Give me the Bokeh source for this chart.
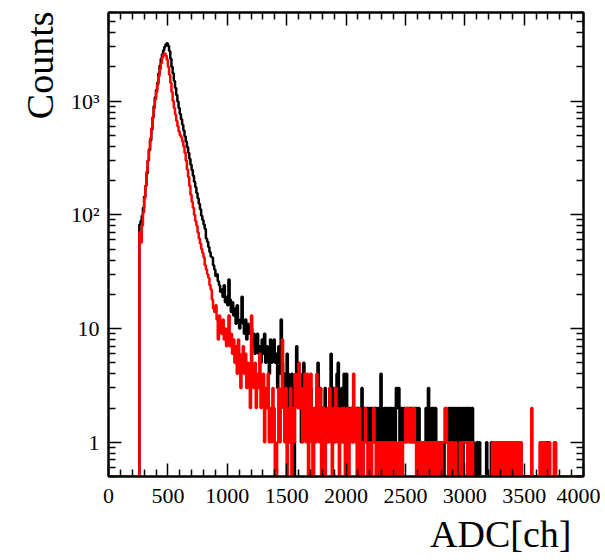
import math
from bokeh.plotting import figure
from bokeh.models import Range1d, FixedTicker, LinearAxis, LogAxis, Title, ColumnDataSource
from bokeh.embed import file_html
from bokeh.resources import INLINE

# ---------------- data ----------------
BIN_WIDTH = 10
X_MIN, X_MAX = 0, 4000
Y_MIN, Y_MAX = 0.5, 6000

# counts per 10-channel bin, 20 bins (200 ch) per row
black_counts = [
    0, 0, 0, 0, 0, 0, 0, 0, 0, 0, 0, 0, 0, 0, 0, 0, 0, 0, 0, 0,
    0, 0, 0, 0, 0, 0, 82, 88, 98, 115, 145, 180, 230, 300, 370, 450, 560, 720, 900, 1080,
    1250, 1450, 1750, 2050, 2350, 2580, 2800, 3000, 3150, 3220, 3050, 2750, 2350, 2000, 1750, 1500, 1300, 1130, 990, 870,
    770, 690, 620, 550, 490, 440, 395, 350, 310, 275, 248, 220, 195, 175, 155, 140, 125, 112, 98, 90,
    82, 75, 62, 58, 52, 47, 43, 42, 36, 33, 29, 30, 26, 24, 21, 22, 19, 24, 17, 19,
    16, 27, 18, 14, 17, 13, 15, 11, 16, 12, 10, 12, 19, 11, 9, 12, 8, 11, 9, 10,
    10, 7, 9, 6, 8, 9, 6, 7, 5, 8, 6, 9, 5, 7, 6, 4, 8, 5, 7, 8,
    5, 6, 3, 7, 4, 12, 5, 3, 4, 2, 6, 4, 1, 3, 4, 2, 0, 3, 7, 4,
    2, 3, 1, 4, 5, 3, 2, 3, 1, 2, 3, 1, 0, 2, 1, 3, 5, 2, 3, 1,
    2, 1, 3, 2, 1, 2, 3, 6, 2, 3, 1, 2, 4, 5, 2, 1, 3, 1, 4, 2,
    4, 1, 2, 1, 2, 1, 2, 2, 1, 2, 2, 1, 2, 3, 1, 2, 1, 2, 2, 1,
    2, 1, 2, 1, 2, 2, 1, 2, 1, 4, 2, 1, 2, 2, 1, 2, 1, 2, 2, 1,
    2, 1, 3, 2, 3, 1, 2, 1, 2, 2, 1, 2, 2, 1, 2, 1, 2, 1, 2, 2,
    1, 2, 1, 1, 0, 1, 1, 2, 1, 3, 2, 1, 2, 2, 1, 2, 1, 1, 0, 1,
    1, 1, 0, 1, 1, 1, 2, 1, 2, 0, 2, 1, 2, 0, 2, 2, 1, 2, 0, 2,
    1, 2, 2, 1, 2, 1, 2, 1, 0, 0, 1, 0, 1, 0, 0, 0, 0, 0, 1, 0,
    0, 0, 1, 0, 1, 0, 0, 1, 0, 1, 1, 0, 0, 1, 0, 1, 0, 0, 1, 0,
    0, 1, 0, 1, 0, 0, 1, 0, 0, 0, 0, 0, 0, 0, 0, 0, 0, 0, 0, 0,
    0, 0, 0, 0, 1, 0, 0, 1, 0, 1, 1, 0, 0, 0, 0, 0, 0, 0, 0, 0,
    0, 0, 0, 0, 0, 0, 0, 0, 0, 0, 0, 0, 0, 0, 0, 0, 0, 0, 0, 0,
]

red_counts = [
    0, 0, 0, 0, 0, 0, 0, 0, 0, 0, 0, 0, 0, 0, 0, 0, 0, 0, 0, 0,
    0, 0, 0, 0, 0, 0, 70, 57, 80, 105, 140, 180, 240, 300, 380, 470, 580, 710, 860, 1030,
    1200, 1400, 1650, 1900, 2150, 2400, 2580, 2620, 2500, 2300, 2000, 1700, 1450, 1200, 1000, 870, 760, 670, 600, 540,
    500, 480, 440, 400, 350, 300, 250, 215, 180, 150, 130, 115, 100, 88, 80, 70, 62, 56, 50, 46,
    42, 36, 33, 30, 28, 24, 22, 18, 15, 14, 16, 12, 8, 13, 11, 9, 12, 8, 10, 7,
    9, 13, 7, 9, 6, 8, 5, 7, 4, 8, 6, 3, 5, 7, 4, 6, 3, 5, 4, 2,
    13, 4, 3, 5, 2, 4, 3, 6, 2, 3, 4, 1, 3, 2, 4, 1, 2, 1, 3, 2,
    0, 0, 1, 3, 1, 2, 8, 2, 1, 3, 0, 2, 1, 3, 0, 2, 1, 4, 3, 2,
    5, 2, 3, 1, 2, 4, 1, 4, 0, 2, 4, 1, 0, 2, 1, 4, 2, 1, 3, 0,
    1, 2, 0, 1, 2, 1, 3, 1, 0, 2, 1, 3, 1, 2, 0, 1, 2, 1, 2, 0,
    1, 2, 0, 1, 2, 1, 4, 1, 2, 0, 1, 2, 0, 1, 0, 1, 2, 1, 0, 1,
    1, 0, 1, 2, 1, 0, 1, 0, 1, 1, 0, 1, 0, 1, 1, 0, 1, 1, 0, 1,
    0, 1, 0, 0, 1, 0, 1, 0, 1, 1, 2, 1, 2, 1, 1, 2, 1, 2, 1, 0,
    1, 0, 1, 1, 0, 1, 1, 0, 1, 0, 1, 1, 0, 1, 0, 1, 1, 0, 1, 1,
    0, 1, 1, 2, 2, 1, 0, 1, 0, 1, 0, 0, 1, 0, 0, 0, 1, 0, 1, 1,
    1, 1, 0, 1, 1, 0, 1, 0, 0, 0, 0, 0, 0, 0, 0, 0, 0, 0, 0, 0,
    0, 0, 0, 1, 0, 1, 1, 0, 1, 1, 0, 1, 1, 0, 1, 0, 1, 1, 0, 1,
    1, 0, 1, 0, 1, 1, 0, 1, 0, 0, 0, 0, 0, 0, 0, 0, 2, 0, 0, 0,
    0, 0, 0, 1, 0, 1, 1, 0, 1, 0, 0, 1, 0, 0, 0, 1, 1, 0, 0, 0,
    0, 0, 0, 0, 0, 0, 0, 0, 0, 0, 0, 0, 0, 0, 0, 0, 0, 0, 0, 0,
]

x_ticks = [0, 500, 1000, 1500, 2000, 2500, 3000, 3500, 4000]
x_tick_labels = ["0", "500", "1000", "1500", "2000", "2500", "3000", "3500", "4000"]
y_ticks = [1, 10, 100, 1000]
y_tick_labels = ["1", "10", "10\u00b2", "10\u00b3"]

x_title = "ADC[ch]"
y_title = "Counts"

FONT = "Liberation Serif"

# ---------------- figure ----------------
p = figure(width=600, height=560, output_backend="svg", toolbar_location=None,
           x_range=Range1d(X_MIN, X_MAX), y_range=Range1d(Y_MIN, Y_MAX),
           y_axis_type="log",
           min_border_left=108, min_border_right=17, min_border_top=12, min_border_bottom=84)
p.background_fill_color = "white"
p.border_fill_color = "white"
p.outline_line_color = "black"
p.outline_line_width = 2
p.xgrid.visible = False
p.ygrid.visible = False


def hist_step(counts):
    edges = [X_MIN + i * BIN_WIDTH for i in range(len(counts) + 1)]
    ys = [max(c, Y_MIN) for c in counts]
    ys.append(ys[-1])
    return ColumnDataSource(dict(x=edges, y=ys))


p.step("x", "y", source=hist_step(black_counts), mode="after", line_color="black", line_width=2.5)
p.step("x", "y", source=hist_step(red_counts), mode="after", line_color="#ff0000", line_width=2.5)

x_minor = [v for v in range(X_MIN, X_MAX + 1, 100) if v % 500 != 0]
y_minor = [m * 10 ** k for k in range(-1, 4) for m in range(2, 10) if Y_MIN <= m * 10 ** k <= Y_MAX]

xt = FixedTicker(ticks=x_ticks, minor_ticks=x_minor)
yt = FixedTicker(ticks=y_ticks, minor_ticks=y_minor)


def style_axis(ax, ticks, labels):
    ax.axis_line_color = "black"
    ax.axis_line_width = 2
    ax.major_tick_line_color = "black"
    ax.minor_tick_line_color = "black"
    ax.major_tick_line_width = 1.5
    ax.minor_tick_line_width = 1.5
    ax.major_tick_in = 13
    ax.major_tick_out = 0
    ax.minor_tick_in = 7
    ax.minor_tick_out = 0
    ax.major_label_text_font = FONT
    ax.major_label_text_color = "black"
    if labels is not None:
        ax.major_label_overrides = dict(zip(ticks, labels))
        ax.major_label_text_font_size = "22px"
    else:
        ax.major_label_overrides = {t: "" for t in ticks}
        ax.major_label_text_font_size = "1px"
        ax.major_label_standoff = 0


xa = p.xaxis[0]
xa.ticker = xt
style_axis(xa, x_ticks, x_tick_labels)
xa.major_label_standoff = 12

ya = p.yaxis[0]
ya.ticker = yt
style_axis(ya, y_ticks, y_tick_labels)
ya.major_label_standoff = 9

top = LinearAxis(ticker=xt)
style_axis(top, x_ticks, None)
p.add_layout(top, "above")
right = LogAxis(ticker=yt)
style_axis(right, y_ticks, None)
p.add_layout(right, "right")

p.add_layout(Title(text=x_title, align="right", offset=12, standoff=10,
                   text_font=FONT, text_font_size="38px", text_font_style="normal",
                   text_color="black"), "below")
p.add_layout(Title(text=y_title, align="right", offset=-1, standoff=13,
                   text_font=FONT, text_font_size="38px", text_font_style="normal",
                   text_color="black"), "left")

open("out.html", "w").write(file_html(p, INLINE))
